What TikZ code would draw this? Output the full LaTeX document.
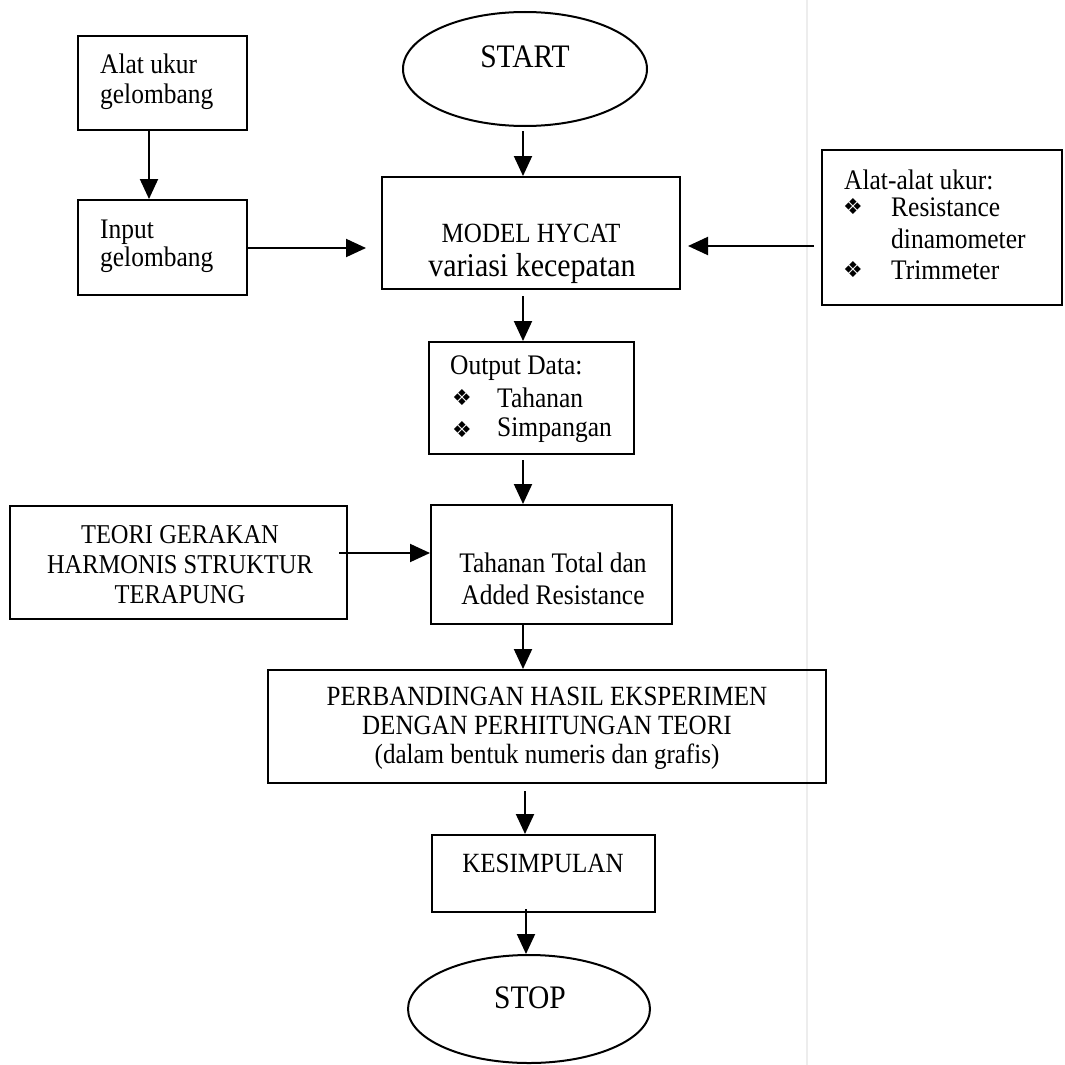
\documentclass[tikz,border=0pt]{standalone}
\usepackage{fontspec}
\setmainfont[FakeStretch=0.9]{Liberation Serif}
\newfontfamily\symfont{DejaVu Sans}
\usetikzlibrary{arrows.meta,shapes.geometric}
\begin{document}
\begin{tikzpicture}[x=1pt,y=-1pt,
  box/.style={draw, line width=2pt, rectangle, inner sep=0pt},
  oval/.style={draw, line width=2pt, ellipse, inner sep=0pt},
  arr/.style={line width=2pt, -{Triangle[length=20pt,width=18pt]}},
  txt/.style={inner sep=0pt, font=\fontsize{28.3pt}{30pt}\selectfont},
  bul/.style={inner sep=0pt, font=\symfont\fontsize{22pt}{22pt}\selectfont}]
\useasboundingbox (0,0) rectangle (1065,1065);
\fill[white] (0,0) rectangle (1065,1065);
\draw[black!7, line width=1.2pt] (807,0) -- (807,1065);

% boxes and texts
\node[box, minimum width=169pt, minimum height=94pt] (alat) at (162.5,83) {};
\node[txt, anchor=west, align=left] (talat) at (100,82) {Alat ukur\\gelombang};

\node[box, minimum width=169pt, minimum height=95pt] (input) at (162.5,247.5) {};
\node[txt, anchor=west, align=left, font=\fontsize{28.3pt}{28pt}\selectfont] (tinput) at (100,246) {Input\\gelombang};

\node[oval, minimum width=244pt, minimum height=114pt] (start) at (525,69) {};
\node[txt, font=\fontsize{32.8pt}{33pt}\selectfont] (tstart) at (525,57) {START};

\node[box, minimum width=298pt, minimum height=112pt] (model) at (531,233) {};
\node[txt, font=\fontsize{27.8pt}{30pt}\selectfont] (tmodel1) at (531,233) {MODEL HYCAT};
\node[txt, font=\fontsize{33.3pt}{34pt}\selectfont] (tmodel2) at (532,268) {variasi kecepatan};

\node[box, minimum width=240pt, minimum height=155pt] (alatukur) at (942,227.5) {};
\node[txt, anchor=west] (tau0) at (844,180) {Alat-alat ukur:};
\node[bul] (b1) at (853,207) {❖};
\node[txt, anchor=west] (tau1) at (891,207) {Resistance};
\node[txt, anchor=west] (tau2) at (891,239) {dinamometer};
\node[bul] (b2) at (853,270) {❖};
\node[txt, anchor=west] (tau3) at (891,270) {Trimmeter};

\node[box, minimum width=205pt, minimum height=112pt] (output) at (531.5,398) {};
\node[txt, anchor=west] (tout0) at (450,368) {Output Data:};
\node[bul] (b3) at (462,398) {❖};
\node[txt, anchor=west] (tout1) at (497,398) {Tahanan};
\node[bul] (b4) at (462,430) {❖};
\node[txt, anchor=west] (tout2) at (497,430) {Simpangan};

\node[box, minimum width=241pt, minimum height=119pt] (total) at (551.5,564.5) {};
\node[txt] (ttot1) at (553,563) {Tahanan Total dan};
\node[txt] (ttot2) at (553,595) {Added Resistance};

\node[box, minimum width=337pt, minimum height=113pt] (teori) at (178.5,562.5) {};
\node[txt, align=center, font=\fontsize{27.2pt}{30pt}\selectfont] (tteori) at (180,565) {TEORI GERAKAN\\HARMONIS STRUKTUR\\TERAPUNG};

\node[box, minimum width=558pt, minimum height=113pt] (banding) at (547,726.5) {};
\node[txt, align=center, font=\fontsize{27.8pt}{29pt}\selectfont] (tband) at (547,728) {PERBANDINGAN HASIL EKSPERIMEN\\DENGAN PERHITUNGAN TEORI\\(dalam bentuk numeris dan grafis)};

\node[box, minimum width=223pt, minimum height=77pt] (simpul) at (543.5,873.5) {};
\node[txt, font=\fontsize{27.8pt}{30pt}\selectfont] (tsimpul) at (543,863) {KESIMPULAN};

\node[oval, minimum width=242pt, minimum height=108pt] (stop) at (529,1009) {};
\node[txt, font=\fontsize{32.8pt}{33pt}\selectfont] (tstop) at (530,998) {STOP};

% helper coordinates for connector lines
\coordinate (c1) at (149,0);
\coordinate (c2) at (523,0);
\coordinate (c3) at (525,0);
\coordinate (c4) at (526,0);
\coordinate (r1) at (0,248);
\coordinate (r2) at (0,246);
\coordinate (r3) at (0,553);

% connectors
\draw[arr] (alat.south -| c1) -- (input.north -| c1);
\draw[arr, shorten >=15pt] (input.east |- r1) -- (model.west |- r1);
\draw[arr, shorten <=7pt, shorten >=7pt] (alatukur.west |- r2) -- (model.east |- r2);
\draw[arr, shorten <=4pt] (start.south -| c2) -- (model.north -| c2);
\draw[arr, shorten <=6pt] (model.south -| c2) -- (output.north -| c2);
\draw[arr, shorten <=5pt] (output.south -| c2) -- (total.north -| c2);
\draw[arr, shorten <=-9pt] (teori.east |- r3) -- (total.west |- r3);
\draw[arr] (total.south -| c2) -- (banding.north -| c2);
\draw[arr, shorten <=7pt] (banding.south -| c3) -- (simpul.north -| c3);
\draw[arr, shorten <=-4pt] (simpul.south -| c4) -- (stop.north -| c4);
\end{tikzpicture}
\end{document}
